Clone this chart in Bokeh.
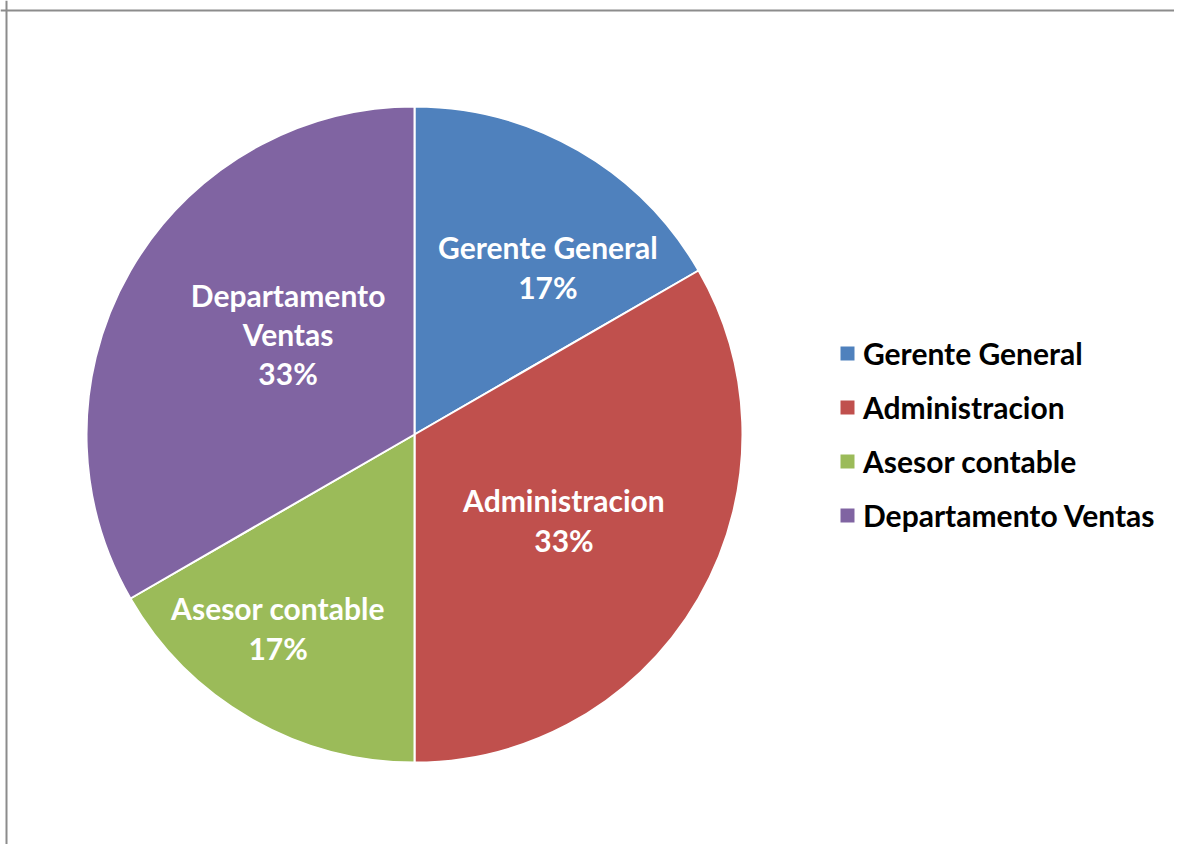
import numpy as np
from bokeh.plotting import figure
from bokeh.models import Range1d, Legend, LegendItem, Span
from bokeh.core.properties import value
from bokeh.embed import file_html
from bokeh.resources import INLINE

categories = ["Gerente General", "Administracion", "Asesor contable", "Departamento Ventas"]
label_texts = ["Gerente General", "Administracion", "Asesor contable", "Departamento\nVentas"]
counts = [1, 2, 1, 2]
colors = ["#4F81BD", "#C0504D", "#9BBB59", "#8064A2"]

# layout (label nudges in screen px, like Excel's best-fit placement)
label_dx = [35, -21, -38, 44]
label_dy = [3, -13, 23, -2]

W, H = 1174, 844
p = figure(width=W, height=H, x_range=Range1d(0, W), y_range=Range1d(0, H),
           min_border=0, toolbar_location=None, output_backend="svg")
p.axis.visible = False
p.grid.visible = False
p.outline_line_color = None
p.background_fill_color = "white"

cx, cy, R = 414, 410, 328
vals = np.array(counts, dtype=float)
total = vals.sum()
cum = np.concatenate([[0], np.cumsum(vals)])
start = np.pi / 2 - 2 * np.pi * cum[:-1] / total
end = np.pi / 2 - 2 * np.pi * cum[1:] / total
mid = (start + end) / 2
pct = [f"{round(100 * v / total)}%" for v in vals]

renderers = []
for i in range(len(categories)):
    r = p.wedge(x=cx, y=cy, radius=R, start_angle=start[i], end_angle=end[i],
                direction="clock", fill_color=colors[i], line_color="white", line_width=2)
    renderers.append(r)

lr = 0.6 * R
lx = cx + lr * np.cos(mid)
ly = cy + lr * np.sin(mid)
texts = [f"{t}\n{pc}" for t, pc in zip(label_texts, pct)]
p.text(x=lx, y=ly, text=texts, x_offset=label_dx, y_offset=label_dy,
       text_color="white", text_font=value("Lato"),
       text_font_style="bold", text_font_size="30px", text_align="center",
       text_baseline="middle", text_line_height=1.09)

legend = Legend(items=[LegendItem(label=c, renderers=[r]) for c, r in zip(categories, renderers)],
                location=(837, 311), orientation="vertical")
legend.glyph_width = 20
legend.glyph_height = 20
legend.label_standoff = 6
legend.spacing = 18
legend.padding = 0
legend.margin = 0
legend.border_line_color = None
legend.background_fill_alpha = 0
legend.label_text_font = "Lato"
legend.label_text_font_style = "bold"
legend.label_text_font_size = "30px"
legend.label_text_color = "black"
p.add_layout(legend, "center")

p.add_layout(Span(location=H - 10, dimension="width", line_color="#8c8c8c", line_width=2))
p.add_layout(Span(location=6, dimension="height", line_color="#8c8c8c", line_width=2))

open("out.html", "w").write(file_html(p, INLINE))
